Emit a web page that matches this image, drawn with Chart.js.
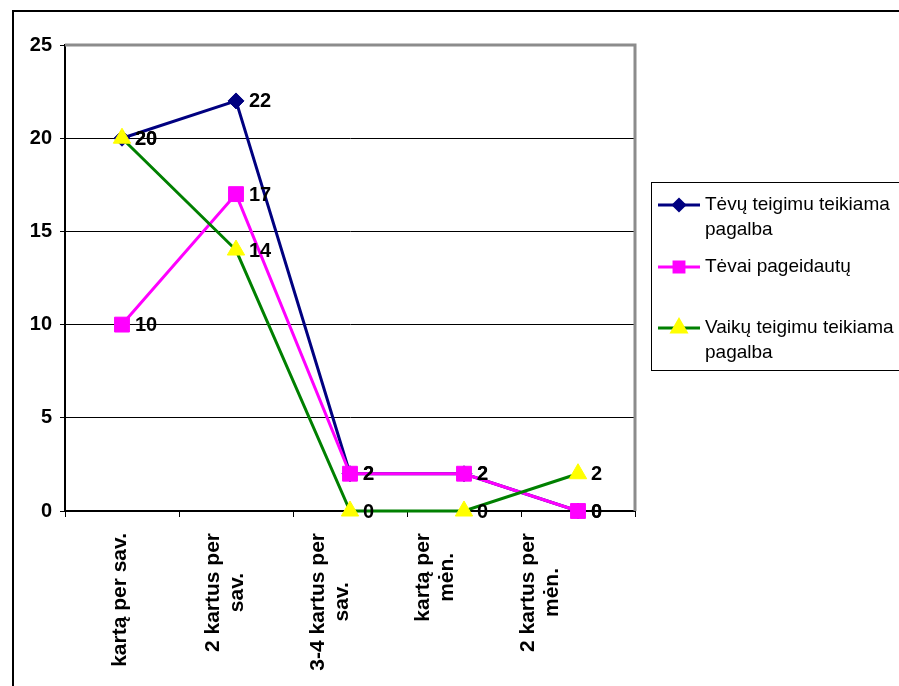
<!DOCTYPE html>
<html>
<head>
<meta charset="utf-8">
<script src="https://cdn.jsdelivr.net/npm/chart.js@4.4.0/dist/chart.umd.min.js"></script>
<style>
  html, body { margin: 0; padding: 0; background: #fff; overflow: hidden; }
  #wrap { position: relative; width: 899px; height: 686px; }
  #frame { position: absolute; left: 12px; top: 10px; width: 900px; height: 700px;
           border: 2px solid #000; box-sizing: border-box; }
  canvas { position: absolute; left: 0; top: 0; }
</style>
</head>
<body>
<div id="wrap">
  <div id="frame"></div>
  <canvas id="chart" width="899" height="686"></canvas>
</div>
<script>
// ── Data ────────────────────────────────────────────────

const categories = [
  ['kartą per sav.'],
  ['2 kartus per', 'sav.'],
  ['3-4 kartus per', 'sav.'],
  ['kartą per', 'mėn.'],
  ['2 kartus per', 'mėn.'],
];
const tevuTeigimu = [20, 22, 2, 2, 0];
const tevaiPageidautu = [10, 17, 2, 2, 0];
const vaikuTeigimu = [20, 14, 0, 0, 2];
const seriesNames = [
  ['Tėvų teigimu teikiama', 'pagalba'],
  ['Tėvai pageidautų'],
  ['Vaikų teigimu teikiama', 'pagalba'],
];
const yMin = 0, yMax = 25, yStep = 5;

// ── Style ───────────────────────────────────────────────

const FONT = "'Liberation Sans', Arial, sans-serif";
const NAVY = '#000080', MAGENTA = '#FF00FF', GREEN = '#008000', YELLOW = '#FFFF00';

// ── Plugins ─────────────────────────────────────────────

// grey plot-area frame (top + right), under the lines
const plotFrame = {
  id: 'plotFrame',
  beforeDatasetsDraw(chart) {
    const { ctx, chartArea: a } = chart;
    ctx.save();
    ctx.strokeStyle = '#8c8c8c';
    ctx.lineWidth = 3;
    ctx.beginPath();
    ctx.moveTo(a.left, a.top);
    ctx.lineTo(a.right, a.top);
    ctx.lineTo(a.right, a.bottom);
    ctx.stroke();
    ctx.restore();
  },
};

// value labels to the right of every point
const valueLabels = {
  id: 'valueLabels',
  afterDatasetsDraw(chart) {
    const ctx = chart.ctx;
    ctx.save();
    ctx.font = 'bold 20px ' + FONT;
    ctx.fillStyle = '#000';
    ctx.textAlign = 'left';
    ctx.textBaseline = 'middle';
    chart.data.datasets.forEach((ds, i) => {
      chart.getDatasetMeta(i).data.forEach((pt, j) => {
        ctx.fillText(String(ds.data[j]), pt.x + 13, pt.y + 1);
      });
    });
    ctx.restore();
  },
};

// rotated, multi-line category labels (lines centred on each other)
const categoryLabels = {
  id: 'categoryLabels',
  afterDraw(chart) {
    const ctx = chart.ctx;
    const xs = chart.scales.x;
    ctx.save();
    ctx.font = 'bold 21px ' + FONT;
    ctx.fillStyle = '#000';
    ctx.textAlign = 'center';
    ctx.textBaseline = 'middle';
    const lineH = 24;
    categories.forEach((lines, i) => {
      const maxW = Math.max(...lines.map(l => ctx.measureText(l).width));
      const cx = xs.getPixelForValue(i) - 2 - i * 9;
      const cy = xs.top + 22 + maxW / 2;
      ctx.save();
      ctx.translate(cx, cy);
      ctx.rotate(-Math.PI / 2);
      lines.forEach((l, k) => {
        ctx.fillText(l, 0, (k - (lines.length - 1) / 2) * lineH);
      });
      ctx.restore();
    });
    ctx.restore();
  },
};

// boxed legend on the right
const boxLegend = {
  id: 'boxLegend',
  afterDraw(chart) {
    const ctx = chart.ctx;
    const itemY = [205, 267, 328];
    ctx.save();
    ctx.strokeStyle = '#000';
    ctx.lineWidth = 1;
    ctx.strokeRect(651.5, 182.5, 260, 188);
    ctx.font = '19px ' + FONT;
    ctx.fillStyle = '#000';
    ctx.textAlign = 'left';
    ctx.textBaseline = 'middle';
    chart.data.datasets.forEach((ds, i) => {
      const y = itemY[i];
      ctx.strokeStyle = ds.borderColor;
      ctx.lineWidth = 3;
      ctx.beginPath();
      ctx.moveTo(658, y);
      ctx.lineTo(700, y);
      ctx.stroke();
      ctx.fillStyle = ds.pointBackgroundColor;
      ctx.strokeStyle = ds.pointBorderColor;
      Chart.helpers.drawPoint(ctx, {
        pointStyle: ds.pointStyle,
        radius: ds.legendRadius,
        borderWidth: 1,
        rotation: 0,
      }, 679, y);
      ctx.fillStyle = '#000';
      seriesNames[i].forEach((l, k) => ctx.fillText(l, 705, y + k * 25));
    });
    ctx.restore();
  },
};

// ── Chart ───────────────────────────────────────────────

new Chart(document.getElementById('chart'), {
  type: 'line',
  data: {
    labels: categories.map(c => c.join(' ')),
    datasets: [
      {
        label: seriesNames[0].join(' '),
        data: tevuTeigimu,
        borderColor: NAVY,
        borderWidth: 3,
        pointStyle: 'rectRot',
        pointRadius: 8,
        legendRadius: 5.5,
        pointBackgroundColor: NAVY,
        pointBorderColor: NAVY,
        pointBorderWidth: 1,
        tension: 0,
        clip: false,
        order: 3,
      },
      {
        label: seriesNames[1].join(' '),
        data: tevaiPageidautu,
        borderColor: MAGENTA,
        borderWidth: 3,
        pointStyle: 'rect',
        pointRadius: 10.5,
        legendRadius: 7,
        pointBackgroundColor: MAGENTA,
        pointBorderColor: MAGENTA,
        pointBorderWidth: 1,
        tension: 0,
        clip: false,
        order: 2,
      },
      {
        label: seriesNames[2].join(' '),
        data: vaikuTeigimu,
        borderColor: GREEN,
        borderWidth: 3,
        pointStyle: 'triangle',
        pointRadius: 10,
        legendRadius: 8,
        pointBackgroundColor: YELLOW,
        pointBorderColor: YELLOW,
        pointBorderWidth: 1,
        tension: 0,
        clip: false,
        order: 1,
      },
    ],
  },
  options: {
    responsive: false,
    animation: false,
    layout: { padding: { top: 45, right: 264, left: 0, bottom: 0 } },
    plugins: { legend: { display: false }, tooltip: { enabled: false } },
    scales: {
      x: {
        offset: true,
        grid: { offset: true, drawOnChartArea: false, drawTicks: true, tickLength: 6, color: '#000', lineWidth: 1 },
        border: { color: '#000', width: 2 },
        ticks: { display: false },
        afterFit: s => { s.height = 175; },
      },
      y: {
        min: yMin,
        max: yMax,
        ticks: {
          stepSize: yStep,
          color: '#000',
          font: { family: FONT, size: 20, weight: 'bold' },
          padding: 8,
        },
        grid: { color: '#000', lineWidth: 1, tickLength: 5 },
        border: { color: '#000', width: 2 },
        afterFit: s => { s.width = 65; },
      },
    },
  },
  plugins: [plotFrame, valueLabels, categoryLabels, boxLegend],
});
</script>
</body>
</html>
